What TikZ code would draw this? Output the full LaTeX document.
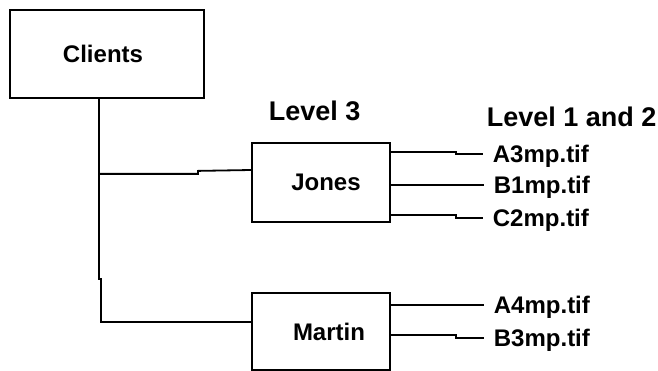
\documentclass[tikz,border=0pt]{standalone}
\usepackage{fontspec}
\setmainfont{Liberation Sans}
\begin{document}
\begin{tikzpicture}[x=1pt,y=-1pt,line width=1.8pt,
  boxnode/.style={draw,line width=1.8pt,inner sep=0pt,font=\bfseries\fontsize{24}{28}\selectfont},
  fname/.style={anchor=west,inner xsep=9pt,inner ysep=0pt,text height=17pt,text depth=0pt,font=\bfseries\fontsize{24}{28}\selectfont},
  lvl/.style={anchor=base west,inner sep=0pt,font=\bfseries\fontsize{27}{31}\selectfont}]
\clip (0,0) rectangle (658,371);
\fill[white] (0,0) rectangle (658,371);
\node[boxnode,minimum width=194pt,minimum height=88pt] (clients) at (107,54) {\hspace*{-8pt}Clients};
\node[boxnode,minimum width=138pt,minimum height=79pt] (jones) at (321,182.5) {\hspace{10pt}Jones};
\node[boxnode,minimum width=138pt,minimum height=77pt] (martin) at (321,331.5) {\hspace{16pt}Martin};
\node[lvl] (lvl3) at (268,121) {Level 3};
\node[lvl] (lvl12) at (486,127) {Level 1 and 2};
\node[fname] (a3) at (483,154) {A3mp.tif};
\node[fname] (b1) at (484,185) {B1mp.tif};
\node[fname] (c2) at (483,218) {C2mp.tif};
\node[fname] (a4) at (484,305) {A4mp.tif};
\node[fname] (b3) at (484,338) {B3mp.tif};
\coordinate (trunk) at ([xshift=-8pt]clients.south);
\coordinate (jb) at ([yshift=-75pt]trunk);
\draw (trunk) -- ++(0,180) -- ++(2,0) |- ([yshift=9.5pt]martin.west);
\draw (jb) -- ++(99,0) -- ++(0,-3) -- ([yshift=12.5pt]jones.west);
\draw ([yshift=30.5pt]jones.east) -- ++(65,0) |- (a3.west);
\draw (jones.east |- b1.west) -- (b1.west);
\draw ([yshift=-32.5pt]jones.east) -- ++(65,0) |- (c2.west);
\draw (martin.east |- a4.west) -- (a4.west);
\draw ([yshift=-3.5pt]martin.east) -- ++(65,0) |- (b3.west);
\end{tikzpicture}
\end{document}
